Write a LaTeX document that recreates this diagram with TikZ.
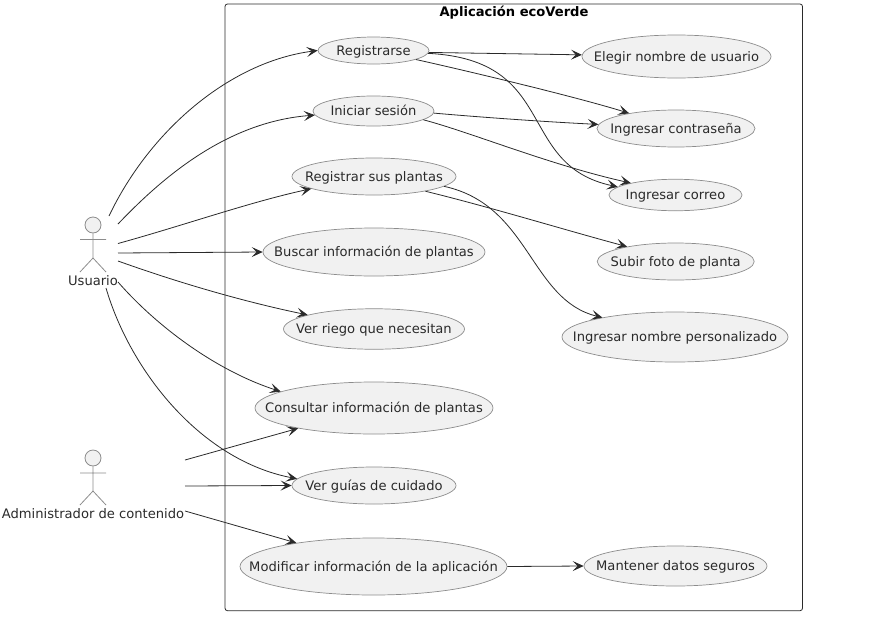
\documentclass[tikz,border=0pt]{standalone}
\usepackage{fontspec}
\setmainfont{DejaVu Sans}
\usetikzlibrary{arrows.meta,shapes.geometric}
\definecolor{uefill}{HTML}{F1F1F1}
\definecolor{ueline}{HTML}{8C8C8C}
\definecolor{inkc}{HTML}{2A2A2A}
\tikzset{
  uc/.style={ellipse,draw=ueline,fill=uefill,line width=0.7pt,inner sep=0pt,text=inkc,font=\fontsize{13.1}{15}\selectfont},
  flow/.style={draw=inkc,line width=0.8pt,-{Stealth[length=11pt,width=10pt,inset=5pt]}},
  stick/.style={draw=ueline,line width=0.8pt},
  actorhead/.style={circle,draw=ueline,fill=uefill,line width=0.8pt,minimum size=16pt,inner sep=0pt},
  actorlabel/.style={text=inkc,inner sep=0pt,font=\fontsize{13.1}{15}\selectfont},
  frame/.style={draw=inkc,line width=0.8pt,rounded corners=2.5pt}
}
\newcommand{\ucnode}[6]{\node[uc,minimum width=#4pt,minimum height=#5pt] (#1) at (#2,#3) {\makebox[0pt][c]{\smash{\raisebox{-4.7pt}{#6}}}};}
\begin{document}
\begin{tikzpicture}[x=1pt,y=-1pt]
\useasboundingbox (0,0) rectangle (895,619);
\draw[frame] (225,4) rectangle (802.5,610.7);
\node[font=\bfseries\fontsize{13.1}{15}\selectfont,text=black,inner sep=0pt] (title) at (514,13) {Aplicación ecoVerde};
% use cases
\ucnode{reg}{373.5}{50.5}{111}{27}{Registrarse}
\ucnode{ini}{373.5}{111}{121}{30}{Iniciar sesión}
\ucnode{pla}{374}{176.5}{164}{37}{Registrar sus plantas}
\ucnode{bus}{374}{252}{222}{48}{Buscar información de plantas}
\ucnode{rie}{374}{329}{181}{40.5}{Ver riego que necesitan}
\ucnode{con}{374}{408}{238}{52}{Consultar información de plantas}
\ucnode{gui}{374}{485.5}{164}{37}{Ver guías de cuidado}
\ucnode{mod}{373.5}{566.5}{267}{57}{Modificar información de la aplicación}
\ucnode{man}{675.5}{566}{183}{40}{Mantener datos seguros}
\ucnode{ele}{676.5}{56.5}{189}{43}{Elegir nombre de usuario}
\ucnode{pas}{676}{128.5}{158}{37}{Ingresar contraseña}
\ucnode{cor}{675.5}{195}{133}{31.5}{Ingresar correo}
\ucnode{fot}{675.7}{261.5}{157}{37}{Subir foto de planta}
\ucnode{nom}{675}{337}{226}{50}{Ingresar nombre personalizado}
% actor Usuario
\node[actorhead] (uh) at (93,225) {};
\node[actorlabel] (ul) at (93,281) {Usuario};
\coordinate (uw) at (93,258);
\draw[stick] (uh.south) -- (uw) (80,239.5) -- (106,239.5) (80,272) -- (uw) -- (106,272);
% actor Administrador
\node[actorhead] (ah) at (93,458) {};
\node[actorlabel] (al) at (93,514) {Administrador de contenido};
\coordinate (aw) at (93,491);
\draw[stick] (ah.south) -- (aw) (80,473) -- (106,473) (80,505) -- (aw) -- (106,505);
% free ends at the actors
\coordinate (u1) at (109,216);
\coordinate (u2) at (118,224);
\coordinate (u3) at (118,243.5);
\coordinate (u4) at (118,253);
\coordinate (u5) at (118,261);
\coordinate (u6) at (118,282);
\coordinate (u7) at (106,288);
\coordinate (a1) at (185,460);
\coordinate (a2) at (185,486);
\coordinate (a3) at (185,511);
% connectors from actors
\draw[flow] (u1) .. controls (150,130) and (230,62) .. (reg.180);
\draw[flow] (u2) .. controls (160,180) and (225,122) .. (ini.184);
\draw[flow] (u3) .. controls (185,225) and (250,202) .. (pla.191.6);
\draw[flow] (u4) -- (bus.180);
\draw[flow] (u5) .. controls (185,285) and (250,303) .. (rie.168.2);
\draw[flow] (u6) .. controls (160,330) and (220,372) .. (con.170);
\draw[flow] (u7) .. controls (130,370) and (200,460) .. (gui.175.4);
\draw[flow] (a1) -- (con.195);
\draw[flow] (a2) -- (gui.180);
\draw[flow] (a3) -- (mod.163.7);
% connectors between use cases
\draw[flow] (reg.-2) -- (ele.179);
\draw[flow] (reg.-12) .. controls (450,67) and (570,95) .. (pas.162);
\draw[flow] (reg.-3) .. controls (560,60) and (515,165) .. (cor.172);
\draw[flow] (ini.-2) .. controls (490,118) and (550,122) .. (pas.177);
\draw[flow] (ini.-10) .. controls (470,132) and (550,165) .. (cor.165);
\draw[flow] (pla.-16) .. controls (490,207) and (565,230) .. (fot.163.4);
\draw[flow] (pla.-8) .. controls (530,205) and (530,300) .. (nom.165.6);
\draw[flow] (mod.0) -- (man.180);
\end{tikzpicture}
\end{document}
